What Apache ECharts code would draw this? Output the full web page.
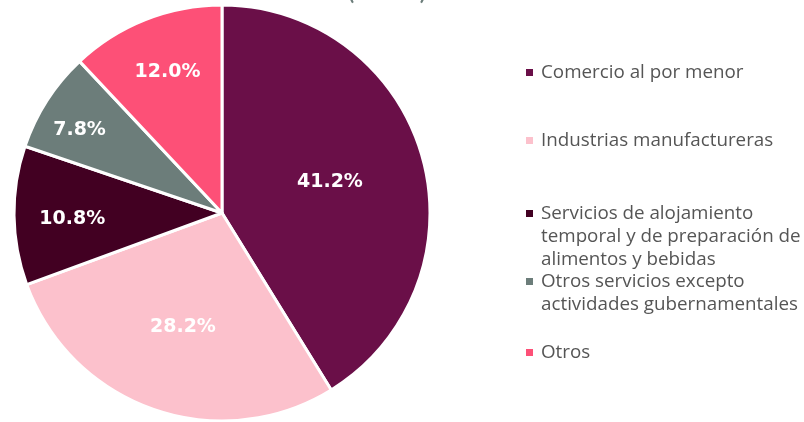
<!DOCTYPE html>
<html>
<head>
<meta charset="utf-8">
<script src="https://cdn.jsdelivr.net/npm/echarts@6/dist/echarts.min.js"></script>
<style>
  html, body { margin: 0; padding: 0; background: #fff; }
</style>
</head>
<body>
<div id="pie-chart-container" style="width: 804px; height: 422px"></div>
<script>
// sectores (porcentaje)
const categories = [
  "Comercio al por menor",
  "Industrias manufactureras",
  "Servicios de alojamiento\ntemporal y de preparación de\nalimentos y bebidas",
  "Otros servicios excepto\nactividades gubernamentales",
  "Otros",
];
const shares = [41.2, 28.2, 10.8, 7.8, 12.0];

const colors = ["#6a0f48", "#fcc1cc", "#420022", "#6c7d7a", "#fd5077"];
// how far out each label sits (share of radius) plus a small nudge
const labelRadius = [0.54, 0.56, 0.72, 0.8, 0.75];
const labelNudge = [[-3, 1], [0, 1], [3, 4], [0, 9], [4, 7]];
const legendTops = [63, 131, 204, 272, 343];

const R = 208;
const total = shares.reduce((a, b) => a + b, 0);

let acc = 0;
const pieData = shares.map((v, i) => {
  const mid = 90 - ((acc + v / 2) / total) * 360;
  acc += v;
  const extra = (labelRadius[i] - 0.5) * R;
  const rad = (mid * Math.PI) / 180;
  return {
    name: categories[i],
    value: v,
    itemStyle: { color: colors[i] },
    label: {
      offset: [
        extra * Math.cos(rad) + labelNudge[i][0],
        -extra * Math.sin(rad) + labelNudge[i][1],
      ],
    },
  };
});

const legends = categories.map((name, i) => ({
  data: [name],
  left: 520,
  top: legendTops[i],
  padding: 0,
  itemWidth: 0,
  itemHeight: 0,
  selectedMode: false,
  formatter: (n) =>
    n
      .split("\n")
      .map((l, j) => (j === 0 ? "{sq|}" : "{sp|}") + "{t|" + l + "}")
      .join("\n"),
  textStyle: {
    rich: {
      sq: { width: 7, height: 7, backgroundColor: colors[i], padding: 0 },
      sp: { width: 7, height: 7 },
      t: {
        fontFamily: "Open Sans",
        fontSize: 18.8,
        color: "#555555",
        lineHeight: 23,
        padding: [0, 0, 0, 8],
      },
    },
  },
}));

const option = {
  animation: false,
  title: {
    text: "(2019)",
    left: 342,
    top: -29,
    textStyle: { color: "#6c7d7a", fontSize: 28, fontWeight: "normal", fontFamily: "Lato" },
  },
  legend: legends,
  series: [
    {
      type: "pie",
      center: [222, 213],
      radius: [0, R],
      startAngle: 90,
      clockwise: true,
      avoidLabelOverlap: false,
      itemStyle: { borderColor: "#ffffff", borderWidth: 3 },
      label: {
        show: true,
        position: "inside",
        formatter: (p) => p.value.toFixed(1) + "%",
        color: "#ffffff",
        fontFamily: "DejaVu Sans",
        fontWeight: "bold",
        fontSize: 19,
      },
      labelLine: { show: false },
      emphasis: { disabled: true },
      data: pieData,
    },
  ],
};

let myChart = echarts.init(document.getElementById("pie-chart-container"));
myChart.setOption(option);
</script>
</body>
</html>
